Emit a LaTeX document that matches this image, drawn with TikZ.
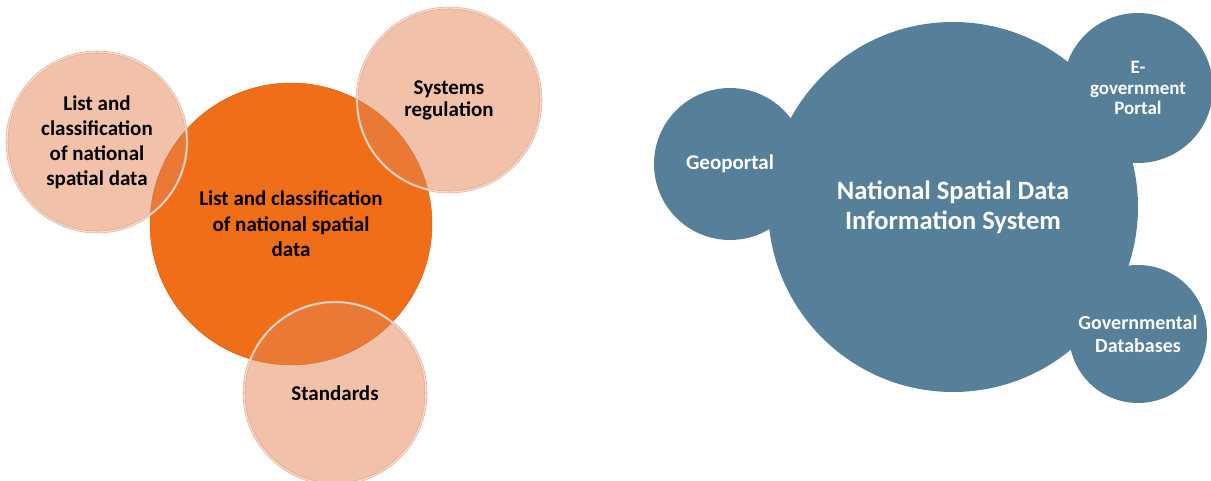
\documentclass[tikz,border=0pt]{standalone}
\usepackage{fontspec}
\setmainfont{Carlito}
\usepackage{tikz}
\definecolor{corange}{RGB}{241,110,24}
\definecolor{cpeach}{RGB}{228,132,84}
\definecolor{crim}{RGB}{222,165,138}
\definecolor{cblue}{RGB}{86,128,153}
\tikzstyle{bigorange}=[circle, fill=corange, draw=corange!85!black, thin, inner sep=0pt, align=center]
\tikzstyle{peach}=[circle, fill=cpeach, fill opacity=0.5, text opacity=1, draw=crim, draw opacity=0.9, line width=0.6pt, double=white!75!cpeach, double distance=1.4pt, inner sep=0pt, align=center]
\tikzstyle{bubble}=[circle, fill=cblue, text=white, inner sep=0pt, align=center]

\begin{document}
\begin{tikzpicture}[x=1pt, y=-1pt, font=\bfseries]

\useasboundingbox (0,0) rectangle (1211,481);

\node[bigorange, minimum size=282pt, font=\fontsize{21}{25.5}\selectfont\bfseries] (core) at (291,224) {List and classification\\of national spatial\\data};
\node[peach, minimum size=180pt, font=\fontsize{21}{25}\selectfont\bfseries] (list) at (97,142) {List and\\classification\\of national\\spatial data};
\node[peach, minimum size=184pt, font=\fontsize{21}{22}\selectfont\bfseries] (reg) at (449,100) {Systems\\regulation};
\node[peach, minimum size=182pt, font=\fontsize{21}{24}\selectfont\bfseries] (std) at (335,393) {Standards};

\node[bubble, minimum size=370pt, font=\fontsize{26.5}{30}\selectfont\bfseries] (nsdi) at (953,207) {National Spatial Data\\Information System};
\node[bubble, minimum size=152pt, font=\fontsize{21}{24}\selectfont\bfseries] (geo) at (730,164) {Geoportal};
\node[bubble, minimum size=150pt, font=\fontsize{19}{20.5}\selectfont\bfseries] (egov) at (1138,88) {E-\\government\\Portal};
\node[bubble, minimum size=138pt, font=\fontsize{20}{23}\selectfont\bfseries] (gdb) at (1138,334) {Governmental\\Databases};

\end{tikzpicture}
\end{document}
